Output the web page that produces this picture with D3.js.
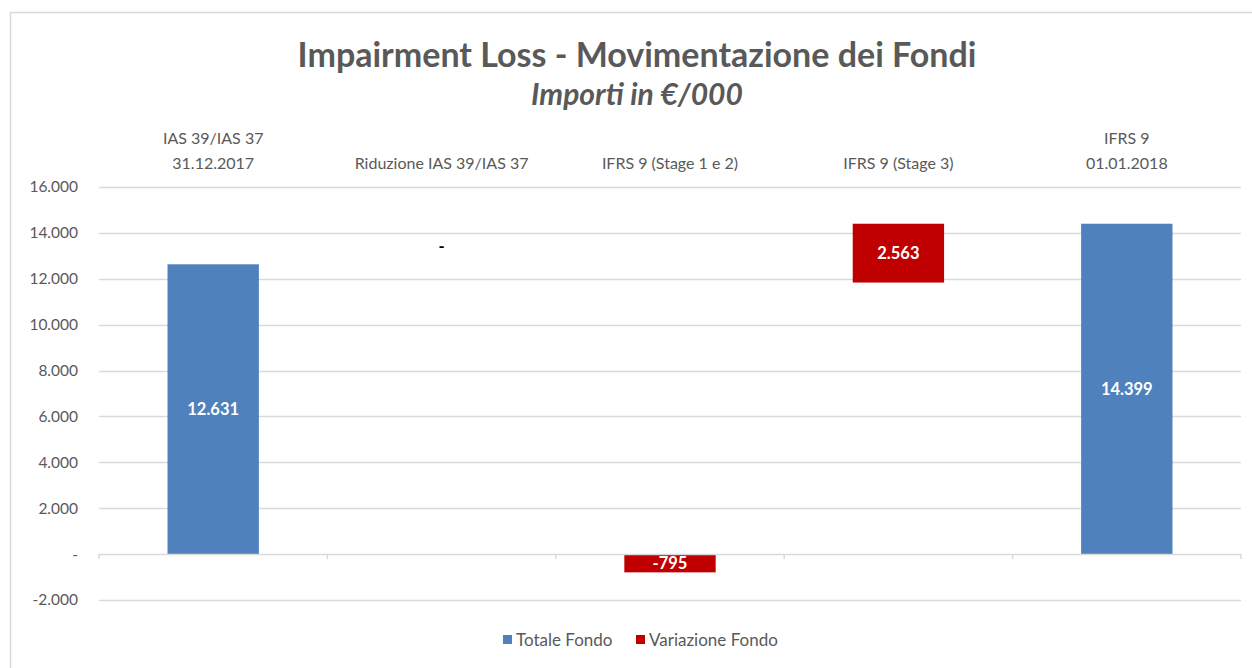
<!DOCTYPE html>
<html><head><meta charset="utf-8">
<script src="https://cdn.jsdelivr.net/npm/d3@7"></script>
<style>body{margin:0;background:#fff;}svg{display:block;}</style>
</head><body>
<script>
const categories = [["IAS 39/IAS 37","31.12.2017"],["Riduzione IAS 39/IAS 37"],["IFRS 9 (Stage 1 e 2)"],["IFRS 9 (Stage 3)"],["IFRS 9","01.01.2018"]];
const totaleFondo = [12631, null, null, null, 14399];
const variazioneFondo = [null, 0, -795, 2563, null];
const variazioneBase = [null, 12631, 0, 11836, null];
const yTicks = [-2000,0,2000,4000,6000,8000,10000,12000,14000,16000];
const seriesNames = ["Totale Fondo","Variazione Fondo"];

const W=1252,H=668;
const font="Lato, 'Open Sans', sans-serif";
const grey="#595959", blue="#4F81BD", red="#C00000";
const svg=d3.select("body").append("svg").attr("width",W).attr("height",H);
svg.append("rect").attr("width",W).attr("height",H).attr("fill","#fff");
// outer frame
svg.append("path").attr("d",`M10.5,${H} V12.5 H${W}`).attr("fill","none").attr("stroke","#d9d9d9").attr("stroke-width",1.5);

const x=d3.scaleBand().domain(d3.range(categories.length)).range([99,1241]).paddingInner(0).paddingOuter(0);
const y=d3.scaleLinear().domain([-2000,16000]).range([600,187]);
const bw=x.bandwidth()*0.4;

// title
svg.append("text").attr("x",637).attr("y",67).attr("text-anchor","middle").attr("font-family",font).attr("font-weight","bold").attr("font-size",34).attr("fill",grey).text("Impairment Loss - Movimentazione dei Fondi");
svg.append("text").attr("x",637).attr("y",105).attr("text-anchor","middle").attr("font-family",font).attr("font-weight","bold").attr("font-style","italic").attr("font-size",30).attr("fill",grey).text("Importi in €/000");

// gridlines
svg.append("g").selectAll("line").data(yTicks.filter(d=>d!==0)).join("line")
  .attr("x1",99).attr("x2",1241).attr("y1",d=>Math.round(y(d))+0.5).attr("y2",d=>Math.round(y(d))+0.5)
  .attr("stroke","#d9d9d9").attr("stroke-width",1.5);

// y axis labels
const fmt=d=>d===0?"-":d3.format(",")(d).replace(/,/g,".").replace(/\u2212/g,"-");
const yAxis=d3.axisLeft(y).tickValues(yTicks).tickFormat(fmt).tickSize(0).tickPadding(0);
const ga=svg.append("g").attr("transform","translate(78,0)").call(yAxis);
ga.select(".domain").remove();
ga.selectAll("text").attr("font-family",font).attr("font-size",15.5).attr("fill",grey);

// category labels at top
const cl=svg.append("g").selectAll("text").data(categories).join("text")
  .attr("text-anchor","middle").attr("font-family",font).attr("font-size",16).attr("fill",grey)
  .attr("x",(d,i)=>x(i)+x.bandwidth()/2);
cl.each(function(d){
  const t=d3.select(this);
  const y0 = d.length===2?144:169;
  d.forEach((s,k)=>t.append("tspan").attr("x",t.attr("x")).attr("y",y0+k*25).text(s));
});

// bars totale
const tot=totaleFondo.map((v,i)=>({i,v})).filter(d=>d.v!==null);
svg.append("g").selectAll("rect").data(tot).join("rect")
  .attr("x",d=>x(d.i)+(x.bandwidth()-bw)/2).attr("width",bw)
  .attr("y",d=>y(Math.max(0,d.v))).attr("height",d=>Math.abs(y(d.v)-y(0))).attr("fill",blue);
// bars variazione
const vari=variazioneFondo.map((v,i)=>({i,v,b:variazioneBase[i]})).filter(d=>d.v!==null);
svg.append("g").selectAll("rect").data(vari.filter(d=>d.v!==0)).join("rect")
  .attr("x",d=>x(d.i)+(x.bandwidth()-bw)/2).attr("width",bw)
  .attr("y",d=>y(Math.max(d.b,d.b+d.v))).attr("height",d=>Math.abs(y(d.b+d.v)-y(d.b))).attr("fill",red);

// zero axis line and ticks
svg.append("line").attr("x1",99).attr("x2",1241).attr("y1",Math.round(y(0))+0.5).attr("y2",Math.round(y(0))+0.5).attr("stroke","#d9d9d9").attr("stroke-width",1.5);
svg.append("g").selectAll("line").data(d3.range(categories.length+1)).join("line")
  .attr("x1",i=>i<categories.length?x(i):x.range()[1]).attr("x2",i=>i<categories.length?x(i):x.range()[1])
  .attr("y1",y(0)).attr("y2",y(0)+5).attr("stroke","#d9d9d9").attr("stroke-width",1.5);

// value labels
const lab=d=>fmt(d);
svg.append("g").selectAll("text").data(tot).join("text")
  .attr("x",d=>x(d.i)+x.bandwidth()/2).attr("y",d=>y(d.v/2)+6)
  .attr("text-anchor","middle").attr("font-family",font).attr("font-weight","bold").attr("font-size",16.5).attr("fill","#fff").text(d=>lab(d.v));
svg.append("g").selectAll("text").data(vari).join("text")
  .attr("x",d=>x(d.i)+x.bandwidth()/2)
  .attr("y",d=>d.v===0?y(d.b)-12:y(d.b+d.v/2)+6)
  .attr("text-anchor","middle").attr("font-family",font).attr("font-weight","bold").attr("font-size",16.5)
  .attr("fill",d=>d.v===0?"#000":"#fff").text(d=>lab(d.v));

// legend
const lg=svg.append("g").attr("font-family",font).attr("font-size",17).attr("fill",grey);
const lx=[503,636];
seriesNames.forEach((n,k)=>{
  lg.append("rect").attr("x",lx[k]).attr("y",635).attr("width",9).attr("height",9).attr("fill",k===0?blue:red);
  lg.append("text").attr("x",lx[k]+13).attr("y",646).text(n);
});
</script>
</body></html>
